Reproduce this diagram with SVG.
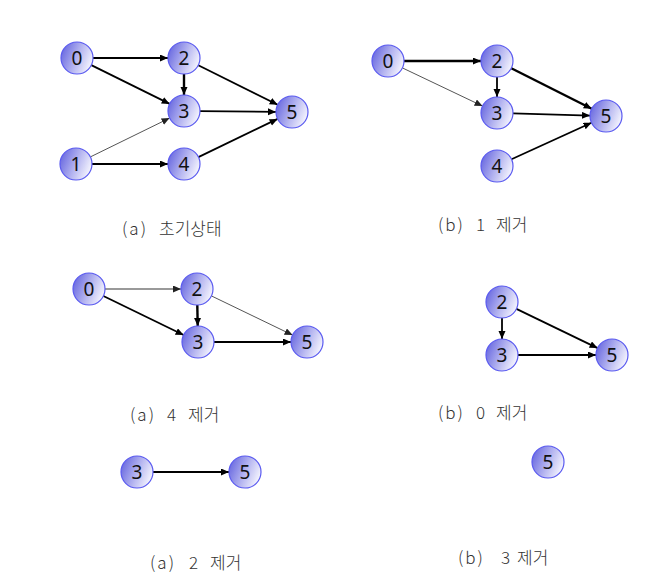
<svg xmlns="http://www.w3.org/2000/svg" width="648" height="580" viewBox="0 0 648 580">
<defs>
<linearGradient id="ng" x1="0" y1="0.3" x2="1" y2="0.7">
<stop offset="0" stop-color="#6a6ae0"/>
<stop offset="0.5" stop-color="#b4b4f0"/>
<stop offset="1" stop-color="#fafaff"/>
</linearGradient>
<marker id="ah" markerUnits="userSpaceOnUse" markerWidth="9" markerHeight="8" refX="8" refY="3.5" orient="auto">
<path d="M0,0 L8,3.5 L0,7 z" fill="#000"/>
</marker>
<marker id="ahg" markerUnits="userSpaceOnUse" markerWidth="9" markerHeight="8" refX="8" refY="3.5" orient="auto">
<path d="M0,0 L8,3.5 L0,7 z" fill="#222"/>
</marker>
</defs>
<style>
.n circle{fill:url(#ng);stroke:#5a5af0;stroke-width:1.2}
.n text{font-family:"Noto Sans","DejaVu Sans",sans-serif;font-size:19px;fill:#111;text-anchor:middle;dominant-baseline:central}
.e line{stroke:#000;stroke-width:1.8;marker-end:url(#ah)}
.e line.thin{stroke:#555;stroke-width:1;marker-end:url(#ahg)}
.e line.mid{stroke:#777;stroke-width:1.4;marker-end:url(#ahg)}
.e line.thick{stroke-width:2.4}
.lbl{font-family:"Noto Sans CJK KR","Noto Sans",sans-serif;font-size:17px;font-weight:300;fill:#333}
.p{letter-spacing:2px}
</style>
<rect width="648" height="580" fill="#fff"/>
<g id="edges" class="e">
<line x1="93" y1="58" x2="168" y2="58"/>
<line x1="91.3" y1="65.1" x2="169.7" y2="103.9"/>
<line x1="184" y1="74" x2="184" y2="95" class="thick"/>
<line x1="198.3" y1="65.2" x2="277.7" y2="104.8"/>
<line x1="200" y1="111.1" x2="276" y2="111.9"/>
<line x1="90.4" y1="156.9" x2="169.6" y2="118.1" class="thin"/>
<line x1="92" y1="164" x2="168" y2="164"/>
<line x1="198.4" y1="157.1" x2="277.6" y2="118.9"/>
<line x1="404" y1="61" x2="481" y2="61" class="thick"/>
<line x1="402.4" y1="67.9" x2="482.6" y2="106.1" class="thin"/>
<line x1="497" y1="77" x2="497" y2="97"/>
<line x1="511.3" y1="68.2" x2="591.7" y2="108.8" class="thick"/>
<line x1="513" y1="113.4" x2="590" y2="115.6"/>
<line x1="511.5" y1="159.3" x2="591.5" y2="122.7"/>
<line x1="105" y1="289" x2="181" y2="289" class="mid"/>
<line x1="103.4" y1="296" x2="183.6" y2="335"/>
<line x1="197.3" y1="305" x2="197.7" y2="326" class="thick"/>
<line x1="211.4" y1="295.9" x2="292.6" y2="335.1" class="thin"/>
<line x1="214" y1="342" x2="291" y2="342"/>
<line x1="502" y1="318" x2="502" y2="339"/>
<line x1="516.4" y1="308.9" x2="597.6" y2="348.1"/>
<line x1="518" y1="355" x2="596" y2="355"/>
<line x1="153" y1="472" x2="229" y2="472"/>
</g>
<g id="a-n0" class="n"><circle cx="77" cy="58" r="16"/><text x="77" y="58">0</text></g>
<g id="a-n2" class="n"><circle cx="184" cy="58" r="16"/><text x="184" y="58">2</text></g>
<g id="a-n3" class="n"><circle cx="184" cy="111" r="16"/><text x="184" y="111">3</text></g>
<g id="a-n5" class="n"><circle cx="292" cy="112" r="16"/><text x="292" y="112">5</text></g>
<g id="a-n1" class="n"><circle cx="76" cy="164" r="16"/><text x="76" y="164">1</text></g>
<g id="a-n4" class="n"><circle cx="184" cy="164" r="16"/><text x="184" y="164">4</text></g>

<g id="b-n0" class="n"><circle cx="388" cy="61" r="16"/><text x="388" y="61">0</text></g>
<g id="b-n2" class="n"><circle cx="497" cy="61" r="16"/><text x="497" y="61">2</text></g>
<g id="b-n3" class="n"><circle cx="497" cy="113" r="16"/><text x="497" y="113">3</text></g>
<g id="b-n5" class="n"><circle cx="606" cy="116" r="16"/><text x="606" y="116">5</text></g>
<g id="b-n4" class="n"><circle cx="497" cy="166" r="16"/><text x="497" y="166">4</text></g>

<g id="c-n0" class="n"><circle cx="89" cy="289" r="16"/><text x="89" y="289">0</text></g>
<g id="c-n2" class="n"><circle cx="197" cy="289" r="16"/><text x="197" y="289">2</text></g>
<g id="c-n3" class="n"><circle cx="198" cy="342" r="16"/><text x="198" y="342">3</text></g>
<g id="c-n5" class="n"><circle cx="307" cy="342" r="16"/><text x="307" y="342">5</text></g>

<g id="d-n2" class="n"><circle cx="502" cy="302" r="16"/><text x="502" y="302">2</text></g>
<g id="d-n3" class="n"><circle cx="502" cy="355" r="16"/><text x="502" y="355">3</text></g>
<g id="d-n5" class="n"><circle cx="612" cy="355" r="16"/><text x="612" y="355">5</text></g>

<g id="e-n3" class="n"><circle cx="137" cy="472" r="16"/><text x="137" y="472">3</text></g>
<g id="e-n5" class="n"><circle cx="245" cy="472" r="16"/><text x="245" y="472">5</text></g>

<g id="f-n5" class="n"><circle cx="548" cy="462" r="16"/><text x="548" y="462">5</text></g>

<g id="labels">
<text class="lbl" y="235"><tspan x="122" class="p">(a)</tspan><tspan x="159">초기상태</tspan></text>
<text class="lbl" y="231"><tspan x="438" class="p">(b)</tspan><tspan x="476">1</tspan><tspan x="496">제거</tspan></text>
<text class="lbl" y="421"><tspan x="130" class="p">(a)</tspan><tspan x="167">4</tspan><tspan x="188">제거</tspan></text>
<text class="lbl" y="419"><tspan x="438" class="p">(b)</tspan><tspan x="476">0</tspan><tspan x="496">제거</tspan></text>
<text class="lbl" y="569"><tspan x="150" class="p">(a)</tspan><tspan x="189">2</tspan><tspan x="210">제거</tspan></text>
<text class="lbl" y="564"><tspan x="458" class="p">(b)</tspan><tspan x="501">3</tspan><tspan x="517">제거</tspan></text>
</g>
</svg>
